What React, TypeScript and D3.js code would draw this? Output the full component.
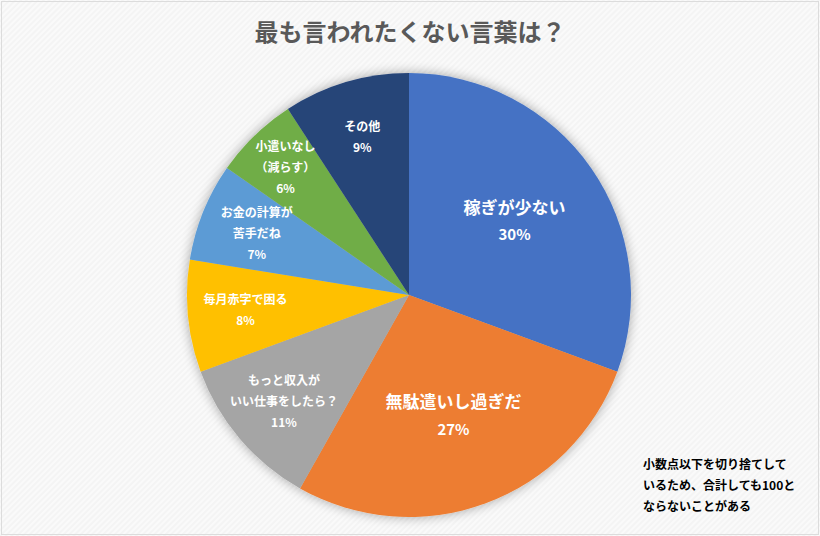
import React from "react";
import * as d3 from "d3";

const categories = [
  ["稼ぎが少ない"],
  ["無駄遣いし過ぎだ"],
  ["もっと収入が", "いい仕事をしたら？"],
  ["毎月赤字で困る"],
  ["お金の計算が", "苦手だね"],
  ["小遣いなし", "（減らす）"],
  ["その他"],
];
const values = [30, 27, 11, 8, 7, 6, 9];
const colors = ["#4472C4", "#ED7D31", "#A5A5A5", "#FFC000", "#5B9BD5", "#70AD47", "#264478"];
const title = "最も言われたくない言葉は？";
const noteLines = ["小数点以下を切り捨てして", "いるため、合計しても100と", "ならないことがある"];

const W = 820;
const H = 536;
const FONT = "'Noto Sans CJK JP', 'Noto Sans', sans-serif";

export default function App() {
  const cx = 409;
  const cy = 295;
  const R = 222;
  const pie = d3.pie<number>().sort(null).value((d) => d);
  const arcs = pie(values);
  const arcGen = d3.arc<d3.PieArcDatum<number>>().innerRadius(0).outerRadius(R);

  return (
    <svg width={W} height={H} style={{ display: "block", position: "absolute", left: 0, top: 0 }}>
      <defs>
        <pattern id="bg" width="4" height="4" patternUnits="userSpaceOnUse" patternTransform="rotate(45)">
          <rect width="4" height="4" fill="#f4f4f4" />
          <rect width="2" height="4" fill="#fafafa" />
        </pattern>
        <filter id="sh" x="-20%" y="-20%" width="140%" height="140%">
          <feGaussianBlur in="SourceAlpha" stdDeviation="6" />
          <feOffset dx="0" dy="0" result="b" />
          <feComponentTransfer>
            <feFuncA type="linear" slope="0.35" />
          </feComponentTransfer>
          <feMerge>
            <feMergeNode />
            <feMergeNode in="SourceGraphic" />
          </feMerge>
        </filter>
      </defs>
      <rect x={0} y={0} width={W} height={H} fill="url(#bg)" />
      <rect x={1.5} y={1.5} width={W - 3} height={H - 3} fill="none" stroke="#dcdcdc" strokeWidth={1} />
      <text x={410} y={41} textAnchor="middle" fontFamily={FONT} fontSize={24} fontWeight="bold" fill="#595959">
        {title}
      </text>
      <g transform={`translate(${cx},${cy})`}>
        <g filter="url(#sh)">
          {arcs.map((a, i) => (
            <path key={i} d={arcGen(a) || ""} fill={colors[i]} />
          ))}
        </g>
        {arcs.map((a, i) => {
          const big = a.data >= 20;
          const lr = big ? R * 0.58 : R * (a.data <= 6 ? 0.8 : 0.74);
          const mid = (a.startAngle + a.endAngle) / 2;
          const x = Math.sin(mid) * lr;
          const y = -Math.cos(mid) * lr;
          const lines = [...categories[i], `${values[i]}%`];
          const fs = big ? 17 : 12;
          const lh = big ? 27 : 21;
          const y0 = y - ((lines.length - 1) * lh) / 2;
          return (
            <text key={i} textAnchor="middle" fontFamily={FONT} fontWeight="bold" fill="#ffffff">
              {lines.map((l, j) => (
                <tspan key={j} x={x} y={y0 + j * lh} dy="0.35em" fontSize={j === lines.length - 1 ? (big ? 15 : 12) : fs}>
                  {l}
                </tspan>
              ))}
            </text>
          );
        })}
      </g>
      <text fontFamily={FONT} fontSize={12} fontWeight="bold" fill="#000000">
        {noteLines.map((l, j) => (
          <tspan key={j} x={643} y={465 + j * 21} dy="0.35em">
            {l}
          </tspan>
        ))}
      </text>
    </svg>
  );
}
